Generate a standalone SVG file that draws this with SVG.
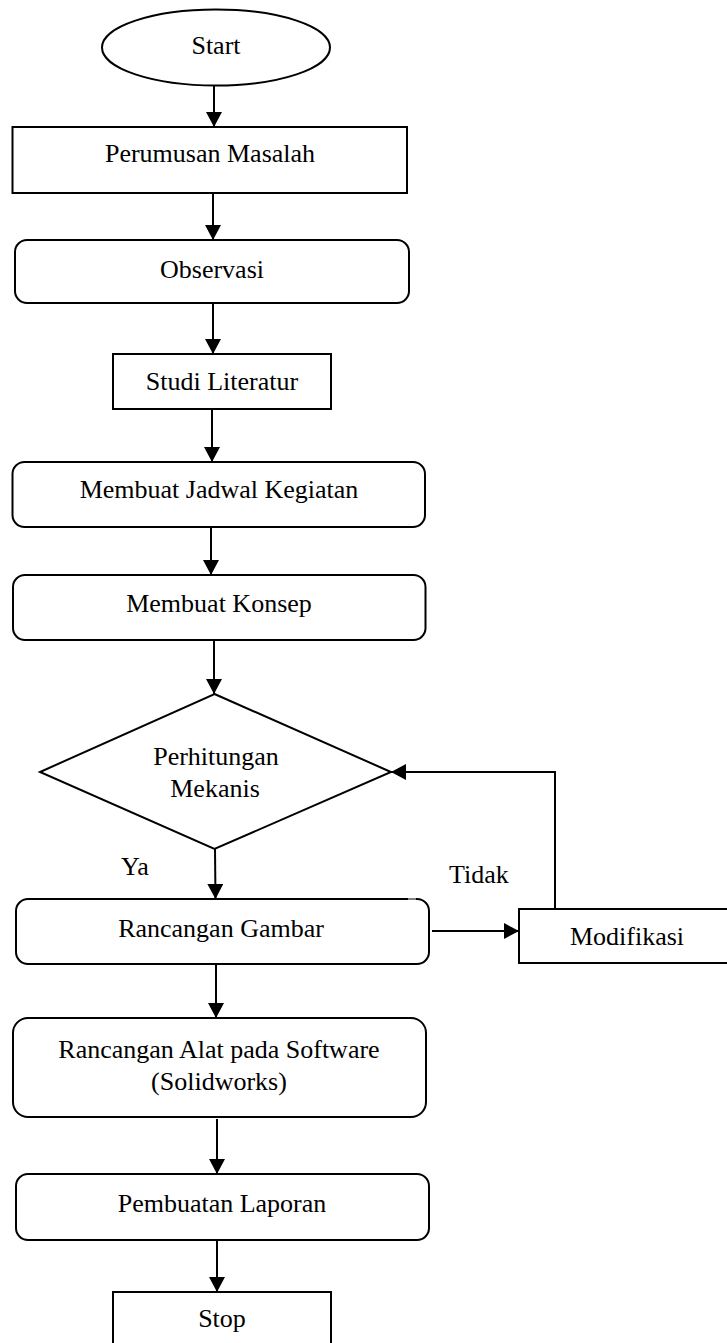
<svg xmlns="http://www.w3.org/2000/svg" width="727" height="1343" viewBox="0 0 727 1343">
<style>
.n{fill:#fff;stroke:#000;stroke-width:2}
.t{font-family:"Liberation Serif","Times New Roman",serif;font-size:26px;fill:#000;text-anchor:middle}
.l{font-family:"Liberation Serif","Times New Roman",serif;font-size:26px;fill:#000}
.c{fill:none;stroke:#000;stroke-width:2}
</style>
<defs>
<marker id="ah" markerUnits="userSpaceOnUse" markerWidth="16" markerHeight="17" refX="15" refY="8" orient="auto">
<path d="M0,0 L15,8 L0,16 z" fill="#000"/>
</marker>
</defs>
<rect width="727" height="1343" fill="#fff"/>
<g id="start"><ellipse class="n" cx="216" cy="47.5" rx="114" ry="38"/><text class="t" x="216" y="54">Start</text></g>
<g id="perumusan"><rect class="n" x="12.5" y="127" width="394.5" height="66"/><text class="t" x="210" y="162">Perumusan Masalah</text></g>
<g id="observasi"><rect class="n" x="15" y="240" width="394" height="63" rx="12"/><text class="t" x="212" y="278">Observasi</text></g>
<g id="studi"><rect class="n" x="113" y="354" width="218" height="55"/><text class="t" x="222" y="390">Studi Literatur</text></g>
<g id="jadwal"><rect class="n" x="12.5" y="462" width="412.5" height="65" rx="12"/><text class="t" x="219" y="498">Membuat Jadwal Kegiatan</text></g>
<g id="konsep"><rect class="n" x="13" y="575" width="412.5" height="65" rx="12"/><text class="t" x="219" y="612">Membuat Konsep</text></g>
<g id="perhitungan"><polygon class="n" points="214.5,694 391,772 214.5,849 40,772"/><text class="t" x="216" y="765">Perhitungan</text><text class="t" x="215" y="797">Mekanis</text></g>
<g id="gambar"><rect class="n" x="16" y="899" width="413" height="65" rx="12"/><line x1="408" y1="899" x2="416" y2="899" stroke="#fff" stroke-width="1"/><text class="t" x="221" y="937">Rancangan Gambar</text></g>
<g id="modifikasi"><rect class="n" x="519" y="909" width="220" height="54"/><text class="t" x="627" y="945">Modifikasi</text></g>
<g id="alat"><rect class="n" x="13" y="1018" width="413" height="99" rx="15"/><text class="t" x="219" y="1058">Rancangan Alat pada Software</text><text class="t" x="219" y="1090">(Solidworks)</text></g>
<g id="laporan"><rect class="n" x="16" y="1174" width="413" height="66" rx="12"/><text class="t" x="222" y="1212">Pembuatan Laporan</text></g>
<g id="stop"><rect class="n" x="113" y="1292" width="218" height="60"/><text class="t" x="222" y="1327">Stop</text></g>
<g id="connectors">
<line class="c" x1="214" y1="86" x2="214" y2="127" marker-end="url(#ah)"/>
<line class="c" x1="213" y1="193" x2="213" y2="240" marker-end="url(#ah)"/>
<line class="c" x1="213" y1="303" x2="213" y2="354" marker-end="url(#ah)"/>
<line class="c" x1="212" y1="409" x2="212" y2="462" marker-end="url(#ah)"/>
<line class="c" x1="211" y1="527" x2="211" y2="575" marker-end="url(#ah)"/>
<line class="c" x1="214" y1="640" x2="214" y2="694" marker-end="url(#ah)"/>
<line class="c" x1="215" y1="849" x2="215.5" y2="899" marker-end="url(#ah)"/>
<line class="c" x1="432" y1="931" x2="519" y2="931" marker-end="url(#ah)"/>
<polyline class="c" points="555,909 555,772 391,772" marker-end="url(#ah)"/>
<line class="c" x1="216" y1="964" x2="216" y2="1018" marker-end="url(#ah)"/>
<line class="c" x1="217" y1="1119" x2="217" y2="1174" marker-end="url(#ah)"/>
<line class="c" x1="217" y1="1240" x2="217" y2="1292" marker-end="url(#ah)"/>
<text class="l" x="121" y="875">Ya</text>
<text class="l" x="449" y="883">Tidak</text>
</g>
</svg>
